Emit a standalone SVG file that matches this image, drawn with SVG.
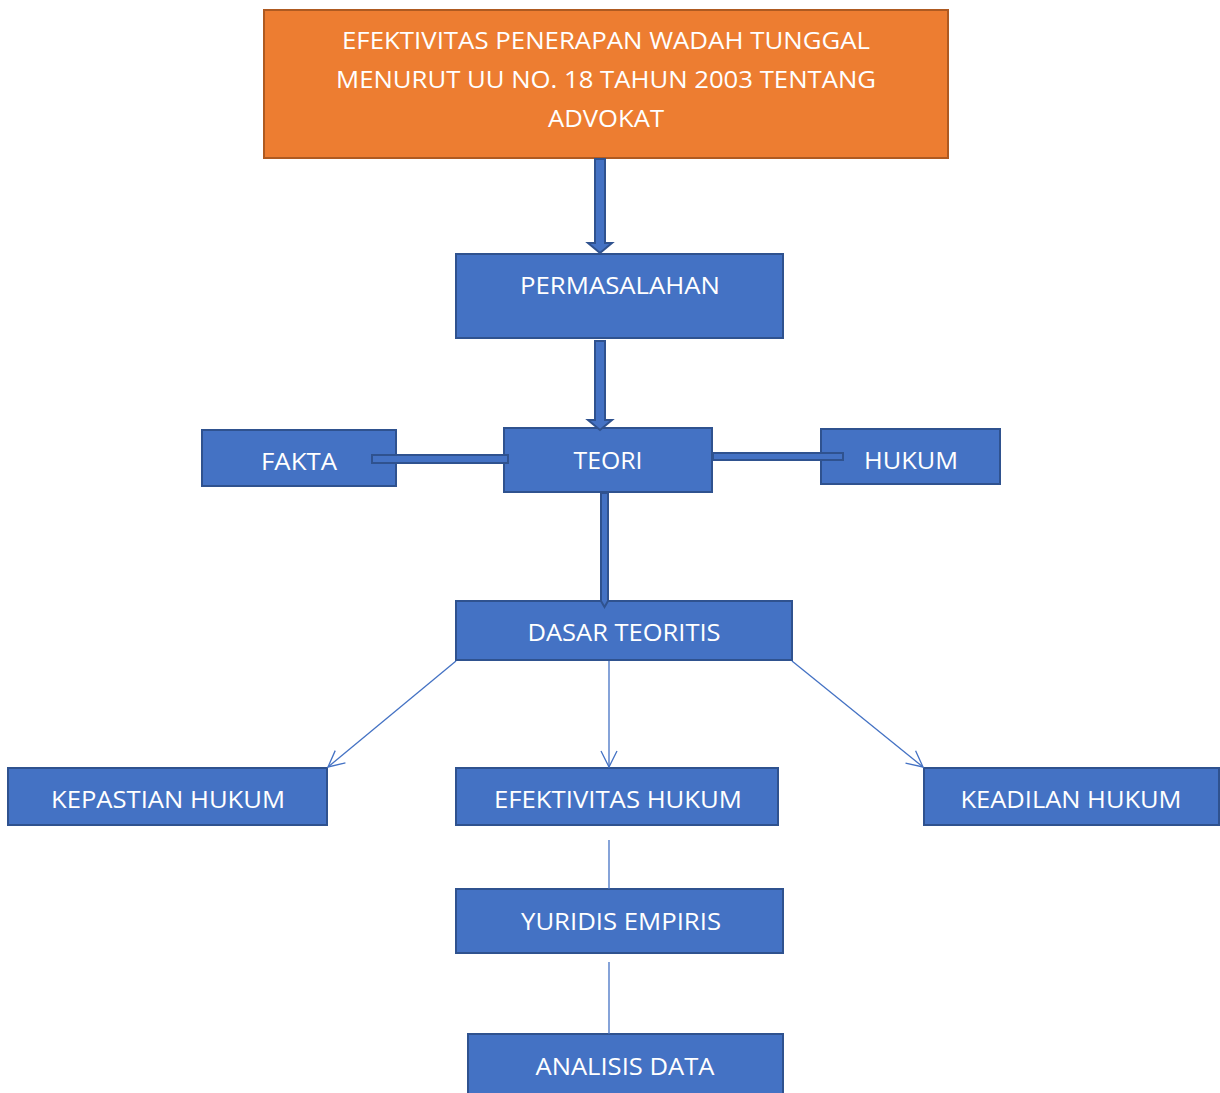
<svg xmlns="http://www.w3.org/2000/svg" width="1220" height="1093" viewBox="0 0 1220 1093">
<defs>
<style>
.box{fill:#4472C4;stroke:#2F528F;stroke-width:2}
.title{fill:#ED7D31;stroke:#AE5A21;stroke-width:2}
.t{font-family:"Open Sans","Liberation Sans",sans-serif;font-size:23px;fill:#FFFFFF;text-anchor:middle}
.blk{fill:#4472C4;stroke:#2F528F;stroke-width:2}
.thin{fill:none;stroke:#4472C4;stroke-width:1.3}
</style>
<marker id="open" viewBox="0 0 20 20" refX="18" refY="10" markerWidth="20" markerHeight="20" markerUnits="userSpaceOnUse" orient="auto">
<path d="M2,2 L18,10 L2,18" fill="none" stroke="#4472C4" stroke-width="1.3"/>
</marker>
</defs>
<g id="title">
<rect class="title" x="264" y="10" width="684" height="148"/>
<text class="t" x="606" y="49" textLength="528" lengthAdjust="spacingAndGlyphs">EFEKTIVITAS PENERAPAN WADAH TUNGGAL</text>
<text class="t" x="606" y="88" textLength="540" lengthAdjust="spacingAndGlyphs">MENURUT UU NO. 18 TAHUN 2003 TENTANG</text>
<text class="t" x="606" y="127" textLength="116" lengthAdjust="spacingAndGlyphs">ADVOKAT</text>
</g>
<g id="permasalahan">
<rect class="box" x="456" y="254" width="327" height="84"/>
<text class="t" x="620" y="294" textLength="200" lengthAdjust="spacingAndGlyphs">PERMASALAHAN</text>
</g>
<g id="fakta">
<rect class="box" x="202" y="430" width="194" height="56"/>
<text class="t" x="299" y="470" textLength="76" lengthAdjust="spacingAndGlyphs">FAKTA</text>
</g>
<g id="teori">
<rect class="box" x="504" y="428" width="208" height="64"/>
<text class="t" x="608" y="469" textLength="69" lengthAdjust="spacingAndGlyphs">TEORI</text>
</g>
<g id="hukum">
<rect class="box" x="821" y="429" width="179" height="55"/>
<text class="t" x="911" y="469" textLength="94" lengthAdjust="spacingAndGlyphs">HUKUM</text>
</g>
<g id="dasar-teoritis">
<rect class="box" x="456" y="601" width="336" height="59"/>
<text class="t" x="624" y="641" textLength="193" lengthAdjust="spacingAndGlyphs">DASAR TEORITIS</text>
</g>
<g id="kepastian-hukum">
<rect class="box" x="8" y="768" width="319" height="57"/>
<text class="t" x="168" y="808" textLength="234" lengthAdjust="spacingAndGlyphs">KEPASTIAN HUKUM</text>
</g>
<g id="efektivitas-hukum">
<rect class="box" x="456" y="768" width="322" height="57"/>
<text class="t" x="618" y="808" textLength="248" lengthAdjust="spacingAndGlyphs">EFEKTIVITAS HUKUM</text>
</g>
<g id="keadilan-hukum">
<rect class="box" x="924" y="768" width="295" height="57"/>
<text class="t" x="1071" y="808" textLength="221" lengthAdjust="spacingAndGlyphs">KEADILAN HUKUM</text>
</g>
<g id="yuridis-empiris">
<rect class="box" x="456" y="889" width="327" height="64"/>
<text class="t" x="621" y="930" textLength="200" lengthAdjust="spacingAndGlyphs">YURIDIS EMPIRIS</text>
</g>
<g id="analisis-data">
<rect class="box" x="468" y="1034" width="315" height="70"/>
<text class="t" x="625" y="1075" textLength="179" lengthAdjust="spacingAndGlyphs">ANALISIS DATA</text>
</g>
<g id="connectors">
<polygon class="blk" points="595,159 605,159 605,243 612,243 600,253 588,243 595,243"/>
<polygon class="blk" points="595,341 605,341 605,420 612,420 600,430 588,420 595,420"/>
<rect class="blk" x="372" y="455" width="136" height="8"/>
<rect class="blk" x="713" y="453" width="130" height="7"/>
<polygon class="blk" points="601,493 608,493 608,601 604.5,607 601,601"/>
<line class="thin" x1="456" y1="661" x2="328" y2="767" marker-end="url(#open)"/>
<line class="thin" x1="609" y1="661" x2="609" y2="767" marker-end="url(#open)"/>
<line class="thin" x1="792" y1="661" x2="923" y2="767" marker-end="url(#open)"/>
<line class="thin" x1="609" y1="840" x2="609" y2="889"/>
<line class="thin" x1="609" y1="962" x2="609" y2="1034"/>
</g>
</svg>
